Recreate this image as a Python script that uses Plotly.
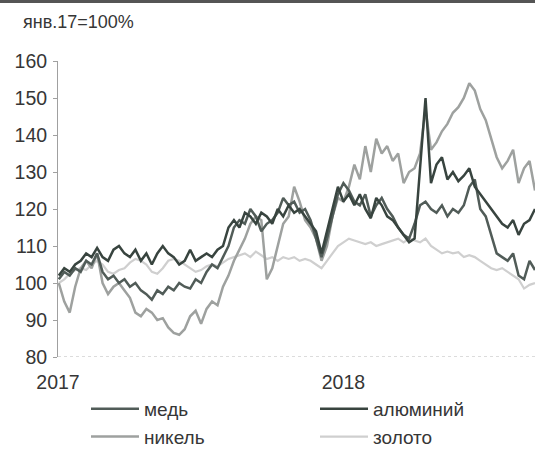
import plotly.graph_objects as go
import pandas as pd

# weekly observations, index: янв.2017 = 100
dates = pd.date_range("2017-01-02", periods=88, freq="7D")

copper = [101, 103, 102, 104, 103, 106, 105, 108, 103, 101,
          102, 100, 101, 99, 100, 98, 97, 95.5, 98, 97,
          99, 98, 100, 99, 98.5, 101, 100, 103, 105, 104, 107,
          110, 115, 117, 116, 120, 118, 114, 116, 117, 119,
          123, 121, 122, 119, 120, 117, 112, 107, 112, 118,
          124, 127, 125, 122, 121, 124, 118, 121, 123, 120,
          118, 115, 113, 112, 116, 121, 122, 120, 119, 121,
          118, 120, 119, 121, 126, 128, 120, 118, 113, 108, 107,
          106, 108, 102, 101, 106, 103.5]

aluminium = [102, 104, 103, 105, 106, 108, 107, 109.5, 107, 106,
             109, 110, 108, 107, 109, 106, 108, 105, 108, 110,
             108, 107, 105, 106, 109, 106, 107, 108, 107, 109, 110,
             115, 117, 115, 119, 118, 116, 119, 118, 116, 120,
             118, 121, 119, 120, 118, 116, 114, 108, 114, 120,
             126, 122, 124, 121, 124, 120, 117.5, 123, 121, 118,
             117, 115, 113, 111, 112, 130, 150, 127, 132, 134,
             128, 130, 127.5, 129, 131, 126, 124, 122, 120, 118, 116,
             115, 117, 113, 116, 117, 120]

nickel = [100, 95, 92, 99, 104, 106, 104, 108, 100, 97,
          99, 100, 98, 96, 92, 91, 93, 92, 90, 90.5,
          88, 86.5, 86, 87.5, 91, 92.5, 89, 93, 95, 94, 99,
          102, 106, 109, 112, 116, 118, 117, 101, 104, 110,
          116, 118, 126, 122, 117, 115, 112, 106, 110, 118,
          123, 122, 126, 132, 128, 137, 130, 139, 135, 137,
          133, 135, 127, 130, 131, 135, 147, 136, 138, 141,
          143, 146, 147.5, 150, 154, 152, 147, 144, 139, 134, 131,
          133, 136, 127, 131, 133, 125]

gold = [100, 101, 102.5, 103.5, 104, 103.5, 105, 106, 105, 103,
        102.5, 103.5, 104, 105.5, 106.5, 106, 105, 103, 102.5, 104,
        106, 106.5, 106, 105, 104, 103, 103.5, 104.5, 105, 104.5, 105.5,
        106.5, 107, 107.5, 108, 107, 108.5, 107.5, 106.5, 107, 106,
        107, 106.5, 107, 106, 106.5, 106, 105, 104, 106, 108,
        110, 111, 112, 111.5, 111, 110.5, 111, 110, 110.5, 111,
        111.5, 112, 111, 112, 111.5, 111, 112, 110, 109, 108,
        108.5, 108, 108.3, 107, 107.5, 107, 106, 105, 104, 103.5, 104,
        103, 102, 101, 98.5, 99.5, 100]

y_ticks = [80, 90, 100, 110, 120, 130, 140, 150, 160]
x_ticks = ["2017-01-01", "2018-01-01"]
x_labels = ["2017", "2018"]

FONT = "Liberation Sans, Arial, sans-serif"
TXT = "#363636"

fig = go.Figure()
fig.add_trace(go.Scatter(x=dates, y=gold, name="золото", mode="lines",
                         line=dict(color="#cfcfcf", width=2.2), legend="legend2"))
fig.add_trace(go.Scatter(x=dates, y=nickel, name="никель", mode="lines",
                         line=dict(color="#9ea19f", width=2.5), legend="legend"))
fig.add_trace(go.Scatter(x=dates, y=copper, name="медь", mode="lines",
                         line=dict(color="#515c58", width=2.5), legend="legend"))
fig.add_trace(go.Scatter(x=dates, y=aluminium, name="алюминий", mode="lines",
                         line=dict(color="#38443f", width=2.5), legend="legend2"))

W, H = 535, 450
L, R, T, B = 58, 0, 61, 93
pw, ph = W - L - R, H - T - B

def px(xp):
    return (xp - L) / pw

def py(yp):
    return (H - B - yp) / ph

legend_common = dict(xanchor="left", yanchor="top", orientation="v",
                     traceorder="reversed", itemwidth=48,
                     font=dict(size=19, color=TXT), bgcolor="rgba(0,0,0,0)",
                     tracegroupgap=0)

fig.update_layout(
    width=W, height=H,
    margin=dict(l=L, r=R, t=T, b=B, autoexpand=False),
    paper_bgcolor="white", plot_bgcolor="white",
    font=dict(family=FONT, color=TXT, size=19),
    showlegend=True,
    legend=dict(x=px(86), y=py(390), **legend_common),
    legend2=dict(x=px(315), y=py(390), **legend_common),
    xaxis=dict(range=["2017-01-01", "2018-09-03"], tickvals=x_ticks, ticktext=x_labels,
               showgrid=False, zeroline=False, showline=False, ticks="",
               ticklabelstandoff=11, automargin=False,
               tickfont=dict(size=19.5, color=TXT)),
    yaxis=dict(range=[80, 160], tickvals=y_ticks, showgrid=False, zeroline=False,
               showline=True, linecolor="#a0a0a0", linewidth=1,
               ticks="outside", ticklen=4, tickcolor="#a0a0a0",
               ticklabelstandoff=2, automargin=False,
               tickfont=dict(size=19.5, color=TXT)),
    annotations=[dict(text="янв.17=100%", xref="paper", yref="paper",
                      x=px(21), y=py(22), xanchor="left", yanchor="middle",
                      showarrow=False, font=dict(size=18, color=TXT))],
    shapes=[
        dict(type="line", xref="paper", yref="y", x0=0, x1=1, y0=80, y1=80,
             line=dict(color="#b8b8b8", width=1, dash="dot")),
        dict(type="line", xref="paper", yref="paper", x0=px(0), x1=px(W),
             y0=py(1.5), y1=py(1.5), line=dict(color="#555555", width=3)),
    ],
)

fig.write_html("out.html",
               config={"displayModeBar": False},
               post_script="document.body.style.margin='0px';"
                           "document.body.style.overflow='hidden';")
